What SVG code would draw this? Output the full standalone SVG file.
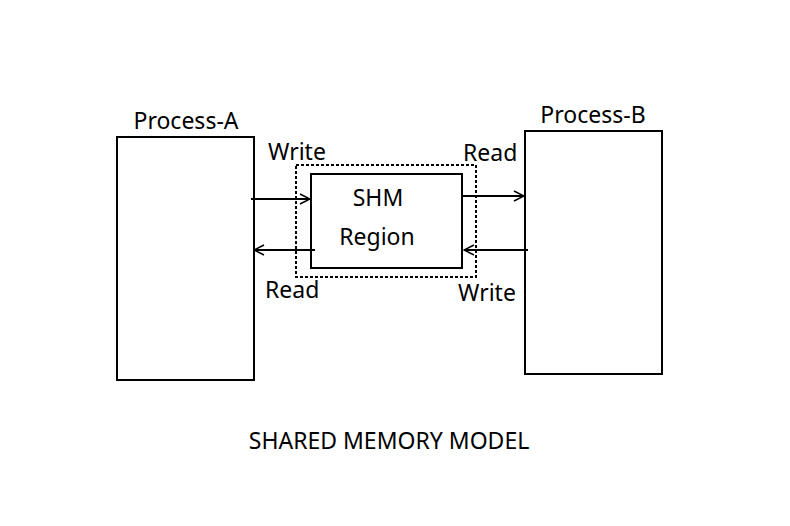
<svg xmlns="http://www.w3.org/2000/svg" width="790" height="526" viewBox="0 0 790 526">
<defs>
<marker id="ah" viewBox="0 0 12 12" refX="11" refY="6" markerWidth="12" markerHeight="12" markerUnits="userSpaceOnUse" orient="auto">
<path d="M1,1 L11,6 L1,11" fill="none" stroke="#000" stroke-width="1.5"/>
</marker>
<style>
.box{fill:#fff;stroke:#000;stroke-width:2}
.dash{fill:none;stroke:#000;stroke-width:2;stroke-dasharray:3,2}
.t{font-family:"Noto Sans",sans-serif;font-size:23px;fill:#000}
.c{text-anchor:middle}
.ln{stroke:#000;stroke-width:2;fill:none;marker-end:url(#ah)}
</style>
</defs>
<rect width="790" height="526" fill="#fff"/>
<g id="process-a">
<rect class="box" x="117" y="137" width="137" height="243"/>
<text class="t c" x="186" y="129">Process-A</text>
</g>
<g id="process-b">
<rect class="box" x="525" y="131" width="137" height="243"/>
<text class="t c" x="593" y="123">Process-B</text>
</g>
<g id="shm">
<rect class="dash" x="296" y="165" width="180" height="112"/>
<rect class="box" x="311" y="174" width="151" height="94"/>
<text class="t c" x="378" y="206">SHM</text>
<text class="t c" x="377" y="245">Region</text>
</g>
<g id="connectors">
<line class="ln" x1="251" y1="199" x2="310" y2="199"/>
<line class="ln" x1="315" y1="250" x2="254" y2="250"/>
<line class="ln" x1="461" y1="196" x2="524" y2="196"/>
<line class="ln" x1="528" y1="250" x2="464" y2="250"/>
</g>
<g id="labels">
<text class="t" x="268" y="160">Write</text>
<text class="t" x="463" y="161">Read</text>
<text class="t" x="265" y="298">Read</text>
<text class="t" x="458" y="301">Write</text>
<text class="t c" x="389" y="449">SHARED MEMORY MODEL</text>
</g>
</svg>
